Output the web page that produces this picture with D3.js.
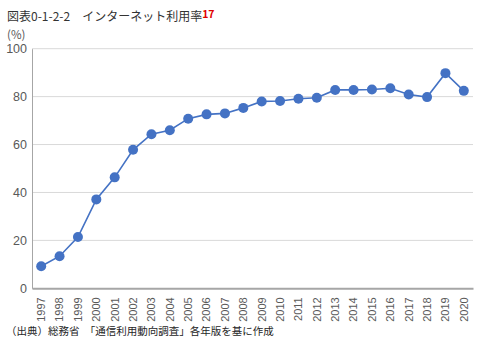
<!DOCTYPE html>
<html><head><meta charset="utf-8">
<script src="https://cdn.jsdelivr.net/npm/d3@7"></script>
<style>
html,body{margin:0;padding:0;background:#fff;}
svg{display:block;font-family:"Noto Sans CJK JP","Noto Sans",sans-serif;}
</style></head>
<body>
<svg id="c" width="487" height="344"></svg>
<script>
const years = ["1997","1998","1999","2000","2001","2002","2003","2004","2005","2006","2007","2008","2009","2010","2011","2012","2013","2014","2015","2016","2017","2018","2019","2020"];
const rates = [9.2,13.4,21.4,37.1,46.3,57.8,64.3,66.0,70.8,72.6,73.0,75.3,78.0,78.2,79.1,79.5,82.8,82.8,83.0,83.5,80.9,79.8,89.8,82.4];
const yTicks = [0,20,40,60,80,100];
const titleText = "図表0-1-2-2\u3000インターネット利用率";
const noteRef = "17";
const unitText = "(%)";
const sourceText = "（出典）総務省\u3000「通信利用動向調査」各年版を基に作成";

const svg = d3.select("#c");
const m = {left:32, right:14, top:48.7, bottom:55.7};
const W = 487, H = 344;
const x = d3.scaleBand().domain(years).range([m.left, W - m.right]);
const y = d3.scaleLinear().domain([0,100]).range([H - m.bottom, m.top]);

// gridlines
svg.append("g").selectAll("line").data(yTicks.filter(d=>d>0)).join("line")
  .attr("x1", m.left).attr("x2", W - m.right)
  .attr("y1", d=>y(d)).attr("y2", d=>y(d))
  .attr("stroke", "#d9d9d9").attr("stroke-width", 1);

// y axis
const yAxis = svg.append("g").attr("transform", `translate(${m.left},0)`)
  .call(d3.axisLeft(y).tickValues(yTicks).tickSize(0).tickPadding(5));
yAxis.select(".domain").attr("stroke", "#a6a6a6");
yAxis.selectAll("text").attr("fill", "#595959").style("font-size", "12.5px");

// x axis
const xAxis = svg.append("g").attr("transform", `translate(0,${y(0)})`)
  .call(d3.axisBottom(x).tickSize(0).tickPadding(5));
xAxis.select(".domain").attr("stroke", "#a6a6a6").attr("stroke-width", 2);
xAxis.selectAll("text")
  .attr("fill", "#595959").style("font-size", "11px")
  .attr("transform", "rotate(-90)")
  .attr("text-anchor", "end")
  .attr("dx", "-9").attr("dy", "0.35em").attr("y", 0).attr("x", 0);

// line
const line = d3.line().x((d,i)=>x(years[i]) + x.bandwidth()/2).y(d=>y(d));
svg.append("path").datum(rates).attr("d", line)
  .attr("fill","none").attr("stroke","#4472c4").attr("stroke-width",1.6);
svg.append("g").selectAll("circle").data(rates).join("circle")
  .attr("cx",(d,i)=>x(years[i]) + x.bandwidth()/2).attr("cy", d=>y(d))
  .attr("r", 5).attr("fill","#4472c4");

// title
const t = svg.append("text").attr("x", 7).attr("y", 21).attr("fill","#333333").style("font-size","12px");
t.append("tspan").text(titleText);
t.append("tspan").text(noteRef).attr("fill","#e00000").attr("font-weight","bold").attr("dy", -3.5).style("font-size","10.5px");

svg.append("text").attr("x", 7).attr("y", 39).attr("fill","#595959").style("font-size","11.5px").text(unitText);

svg.append("text").attr("x", 6).attr("y", 335).attr("fill","#262626").style("font-size","10.5px").text(sourceText);
</script>
</body></html>
